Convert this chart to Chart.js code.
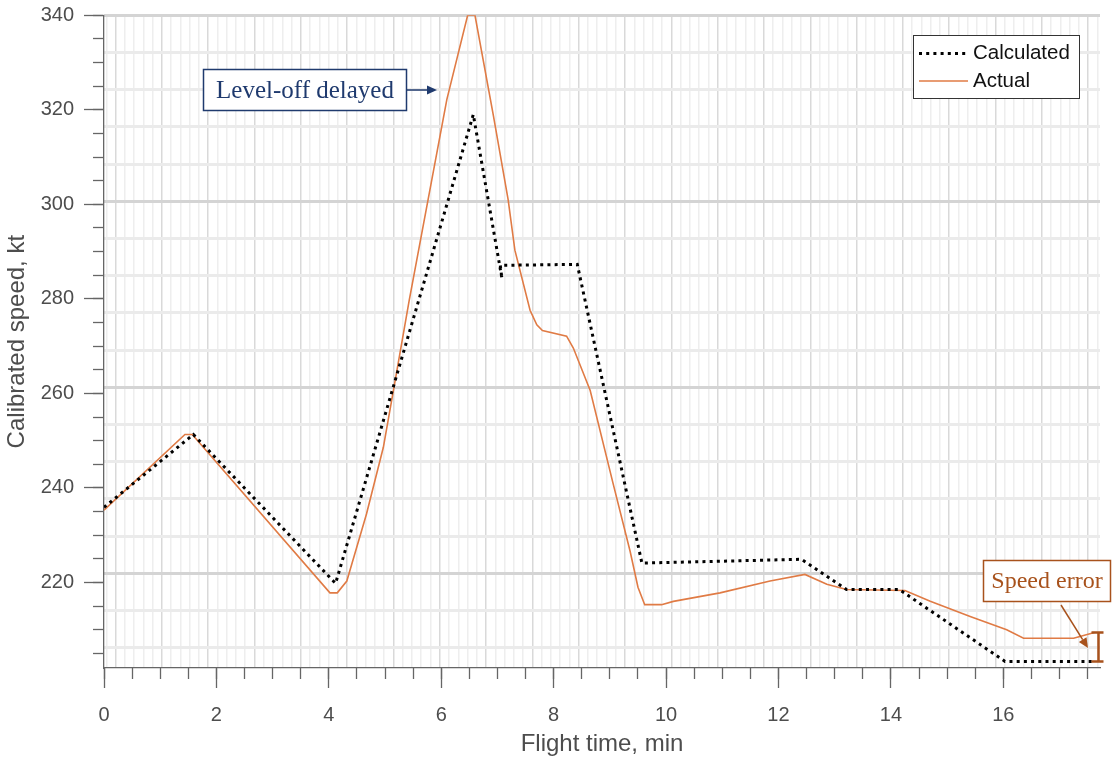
<!DOCTYPE html>
<html>
<head>
<meta charset="utf-8">
<script src="https://cdn.jsdelivr.net/npm/chart.js@4.4.1/dist/chart.umd.min.js"></script>
<style>
  html, body { margin: 0; padding: 0; background: #fff; }
  #wrap { width: 1119px; height: 761px; }
</style>
</head>
<body>
<div id="wrap"><canvas id="chart" width="1119" height="761"></canvas></div>
<script>
// Calculated vs actual calibrated speed over the flight

// Data
const calcTime = [0, 1.59, 4.12, 6.57, 7.08, 7.05, 8.42, 9.57, 12.41, 13.21, 14.15, 16.03, 17.6]
const calcSpeed = [235.9, 251.3, 219.8, 319.0, 284.3, 287.1, 287.3, 224.1, 224.9, 218.5, 218.5, 203.3, 203.3]

const actualTime = [0, 1.44, 1.57, 4.02, 4.15, 4.32, 4.67, 4.97, 5.18, 5.43, 6.1, 6.47, 6.6, 6.93, 7.19, 7.31, 7.58, 7.7, 7.8, 8.23, 8.35, 8.65, 9.06, 9.36, 9.5, 9.62, 9.92, 10.13, 10.96, 11.85, 12.47, 12.86, 13.21, 14.25, 14.7, 15.41, 16.06, 16.36, 17.25, 17.62]
const actualSpeed = [235.3, 251.3, 251.3, 217.8, 217.8, 220.3, 234.5, 248.6, 262.7, 279.7, 322.2, 340, 340, 318.6, 301, 290.3, 277.6, 274.5, 273.3, 272.1, 269.6, 260.6, 240.8, 226.6, 219, 215.3, 215.3, 216, 217.8, 220.3, 221.7, 219.6, 218.5, 218.3, 216, 212.8, 210, 208.2, 208.2, 209.4]

const xMajorTicks = [0, 2, 4, 6, 8, 10, 12, 14, 16]
const yMajorTicks = [220, 240, 260, 280, 300, 320, 340]

const X_MIN = 0
const X_MAX = 17.72
const Y_MIN = 201.9
const Y_MAX = 340

const AXIS_COLOR = "#666"
const LABEL_COLOR = "#4d4d4d"
const SANS = "'Liberation Sans', Arial, Helvetica, sans-serif"
const SERIF = "'Liberation Serif', 'Times New Roman', serif"

function range(start, end, step) {
  const out = []
  for (let v = start; v <= end + 1e-9; v += step) out.push(+v.toFixed(4))
  return out
}

function toPoints(xs, ys) {
  return xs.map((x, i) => ({ x: x, y: ys[i] }))
}

function setTicks(values) {
  return (scale) => { scale.ticks = values.map((v) => ({ value: v })) }
}

// The background grid in the source is offset from the tick marks
const vGrid = range(0.041, X_MAX, 0.1648)
const hGrid = range(0, Y_MAX - Y_MIN, 7.87).map((d) => +(Y_MAX - d).toFixed(3))

// Axis marks only (ticks + axis line), no grid on the chart area
function tickAxis(min, max, ticks, length, extra) {
  return Object.assign({
    type: "linear",
    min: min,
    max: max,
    afterBuildTicks: setTicks(ticks),
    grid: { drawOnChartArea: false, drawTicks: true, tickLength: length, tickColor: AXIS_COLOR, tickWidth: 1.3 },
  }, extra)
}

function gridAxis(min, max, values, position, darkEvery, darkOffset, width, dark, light) {
  return {
    type: "linear",
    position: position,
    weight: 5,
    min: min,
    max: max,
    afterBuildTicks: setTicks(values),
    afterFit: (s) => { if (s.isHorizontal()) s.height = 0; else s.width = 0 },
    ticks: { display: false },
    border: { display: false },
    grid: {
      drawTicks: false,
      lineWidth: width,
      color: (c) => (c.index % darkEvery === darkOffset ? dark : light),
    },
  }
}

// Legend box and the two call-outs
const overlayPlugin = {
  id: "overlay",
  afterDraw(chart) {
    const ctx = chart.ctx
    const y = chart.scales.y
    ctx.save()

    // legend
    ctx.fillStyle = "#fff"
    ctx.fillRect(913, 35, 166, 63)
    ctx.strokeStyle = "#333"
    ctx.lineWidth = 1
    ctx.strokeRect(913.5, 35.5, 166, 63)
    chart.data.datasets.forEach((ds, i) => {
      const ly = 53.5 + i * 27.5
      ctx.beginPath()
      ctx.setLineDash(ds.borderDash || [])
      ctx.strokeStyle = ds.borderColor
      ctx.lineWidth = ds.borderWidth
      ctx.moveTo(919, ly)
      ctx.lineTo(968, ly)
      ctx.stroke()
      ctx.setLineDash([])
      ctx.fillStyle = "#111"
      ctx.font = "20.5px " + SANS
      ctx.textBaseline = "middle"
      ctx.textAlign = "left"
      ctx.fillText(ds.label, 973, ly)
    })

    // "Level-off delayed"
    const navy = "#1f3a6e"
    ctx.strokeStyle = navy
    ctx.fillStyle = "#fff"
    ctx.lineWidth = 1.5
    ctx.fillRect(203.5, 69.5, 203, 41)
    ctx.strokeRect(203.5, 69.5, 203, 41)
    ctx.fillStyle = navy
    ctx.font = "25px " + SERIF
    ctx.textAlign = "center"
    ctx.textBaseline = "middle"
    ctx.fillText("Level-off delayed", 305, 91)
    drawArrow(ctx, 406.5, 90, 437, 90, navy)

    // "Speed error"
    const brown = "#a8521c"
    ctx.strokeStyle = brown
    ctx.fillStyle = "#fff"
    ctx.fillRect(983.5, 560.5, 127, 41)
    ctx.strokeRect(983.5, 560.5, 127, 41)
    ctx.fillStyle = brown
    ctx.font = "24px " + SERIF
    ctx.fillText("Speed error", 1047, 582)
    drawArrow(ctx, 1061, 605, 1088, 648, brown)

    // error bar between the two series at the end
    const top = y.getPixelForValue(actualSpeed[actualSpeed.length - 1])
    const bot = y.getPixelForValue(calcSpeed[calcSpeed.length - 1])
    const ex = 1098.5
    ctx.strokeStyle = brown
    ctx.lineWidth = 2.5
    ctx.beginPath()
    ctx.moveTo(ex, top); ctx.lineTo(ex, bot)
    ctx.moveTo(ex - 7, top); ctx.lineTo(ex + 5, top)
    ctx.moveTo(ex - 7, bot); ctx.lineTo(ex + 5, bot)
    ctx.stroke()
    ctx.restore()
  },
}

function drawArrow(ctx, x1, y1, x2, y2, color) {
  const a = Math.atan2(y2 - y1, x2 - x1)
  const head = 10
  ctx.strokeStyle = color
  ctx.fillStyle = color
  ctx.lineWidth = 1.5
  ctx.beginPath()
  ctx.moveTo(x1, y1)
  ctx.lineTo(x2 - head * Math.cos(a), y2 - head * Math.sin(a))
  ctx.stroke()
  ctx.beginPath()
  ctx.moveTo(x2, y2)
  ctx.lineTo(x2 - head * Math.cos(a) + 4.5 * Math.sin(a), y2 - head * Math.sin(a) - 4.5 * Math.cos(a))
  ctx.lineTo(x2 - head * Math.cos(a) - 4.5 * Math.sin(a), y2 - head * Math.sin(a) + 4.5 * Math.cos(a))
  ctx.closePath()
  ctx.fill()
}

const ctx = document.getElementById("chart").getContext("2d")

new Chart(ctx, {
  type: "line",
  data: {
    datasets: [
      {
        label: "Calculated",
        data: toPoints(calcTime, calcSpeed),
        borderColor: "#000",
        borderWidth: 3,
        borderDash: [3, 4.2],
        pointRadius: 0,
        tension: 0,
        xAxisID: "x",
        yAxisID: "y",
      },
      {
        label: "Actual",
        data: toPoints(actualTime, actualSpeed),
        borderColor: "#e07b45",
        borderWidth: 1.6,
        pointRadius: 0,
        tension: 0,
        xAxisID: "x",
        yAxisID: "y",
      },
    ],
  },
  options: {
    responsive: false,
    animation: false,
    devicePixelRatio: 1,
    layout: { padding: { top: 15.3, right: 19, left: 0, bottom: 0 } },
    plugins: { legend: { display: false }, tooltip: { enabled: false } },
    scales: {
      xGrid: gridAxis(X_MIN, X_MAX, vGrid, "top", 5, 1, 1.5, "#d9d9d9", "#eeeeee"),
      yGrid: gridAxis(Y_MIN, Y_MAX, hGrid, "right", 5, 0, 3, "#d4d4d4", "#ebebeb"),
      xMinor: tickAxis(X_MIN, X_MAX, range(0, 17.5, 0.5), 11, {
        position: "bottom",
        weight: 0,
        ticks: { display: false },
        border: { display: false },
        afterFit: (s) => { s.height = 0 },
      }),
      yMinor: tickAxis(Y_MIN, Y_MAX, range(205, 340, 5), 11, {
        position: "left",
        weight: 0,
        ticks: { display: false },
        border: { display: false },
        afterFit: (s) => { s.width = 0 },
      }),
      x: tickAxis(X_MIN, X_MAX, xMajorTicks, 20, {
        position: "bottom",
        weight: 1,
        afterFit: (s) => { s.height = 93 },
        border: { color: AXIS_COLOR, width: 1.3 },
        ticks: { color: LABEL_COLOR, font: { family: SANS, size: 20 }, padding: 15, maxRotation: 0 },
        title: { display: true, text: "Flight time, min", color: LABEL_COLOR, font: { family: SANS, size: 24 }, padding: { top: 0, bottom: 2 } },
      }),
      y: tickAxis(Y_MIN, Y_MAX, yMajorTicks, 20, {
        position: "left",
        weight: 1,
        afterFit: (s) => { s.width = 104 },
        border: { color: AXIS_COLOR, width: 1.3 },
        // small lineHeight keeps the top label from pushing the plot down
        ticks: { color: LABEL_COLOR, font: { family: SANS, size: 20, lineHeight: 0.4 }, padding: 10 },
        title: { display: true, text: "Calibrated speed, kt", color: LABEL_COLOR, font: { family: SANS, size: 24 }, padding: { top: 3, bottom: 0 } },
      }),
    },
  },
  plugins: [overlayPlugin],
})
</script>
</body>
</html>
